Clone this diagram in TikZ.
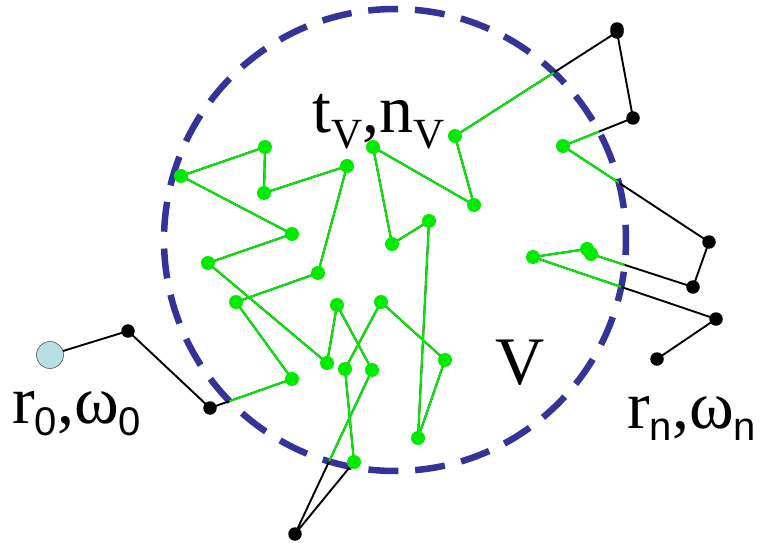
\documentclass[tikz,border=0pt]{standalone}
\usepackage{fontspec}
\setmainfont{Liberation Serif}
\newfontfamily\subsans{Liberation Sans}
\definecolor{vblue}{RGB}{51,51,153}
\definecolor{wgreen}{RGB}{0,235,0}
\definecolor{startblue}{RGB}{183,223,228}
\tikzset{
 wline/.style={line width=1.9pt, black, line cap=round, line join=round},
 gline/.style={line width=2pt, wgreen, line cap=round, line join=round},
 bdot/.style={circle, fill=black, inner sep=0pt, minimum size=13.5pt},
 gdot/.style={circle, fill=wgreen, inner sep=0pt, minimum size=14pt},
 sdot/.style={circle, fill=startblue, draw=gray!70!black, line width=0.6pt, inner sep=0pt, minimum size=27pt},
 lbl/.style={inner sep=0pt, anchor=base west, font=\fontsize{68}{74}\selectfont},
 vcirc/.style={vblue, line width=6.5pt, dash pattern=on 30pt off 16.82pt, dash phase=14.8pt},
}
\newcommand{\ssub}[1]{\raisebox{-12pt}{\fontsize{40}{42}\subsans #1}}
\newcommand{\vsub}[1]{\raisebox{-16pt}{\fontsize{43}{45}\selectfont #1}}
\begin{document}
\begin{tikzpicture}[x=1pt,y=-1pt]
\useasboundingbox (0,0) rectangle (764,543);
\coordinate (c) at (395,240);
\draw[vcirc] (c) circle (231pt);
% walk points
\coordinate (p0) at (50,355);
\coordinate (p1) at (128,331);
\coordinate (p2) at (210,408);
\coordinate (p3) at (292,379);
\coordinate (p4) at (236,302);
\coordinate (p5) at (318,273);
\coordinate (p6) at (347,166);
\coordinate (p7) at (264,193);
\coordinate (p8) at (265,147);
\coordinate (p9) at (181,176);
\coordinate (p10) at (292,234);
\coordinate (p11) at (208,263);
\coordinate (p12) at (327,363);
\coordinate (p13) at (337,305);
\coordinate (p14) at (372,370);
\coordinate (p15) at (295,534);
\coordinate (p16) at (354,462);
\coordinate (p17) at (345,369);
\coordinate (p18) at (381,302);
\coordinate (p19) at (445,360);
\coordinate (p20) at (418,438);
\coordinate (p21) at (429,221);
\coordinate (p22) at (392,244);
\coordinate (p23) at (373,147);
\coordinate (p24) at (474,205);
\coordinate (p25) at (455,136);
\coordinate (p26) at (617,32);
\coordinate (p26b) at (617,29);
\coordinate (p27) at (633,118);
\coordinate (p28) at (563,146);
\coordinate (p29) at (709,242);
\coordinate (p30) at (693,287);
\coordinate (p31) at (591,254);
\coordinate (p32) at (587,249);
\coordinate (p33) at (533,257);
\coordinate (p34) at (716,319);
\coordinate (p35) at (657,359);
% black walk (outside V)
\draw[wline] (p0)--(p1)--(p2)--(p3)--(p4)--(p5)--(p6)--(p7)--(p8)--(p9)--(p10)--(p11)--(p12)--(p13)--(p14)--(p15)--(p16)--(p17)--(p18)--(p19)--(p20)--(p21)--(p22)--(p23)--(p24)--(p25)--(p26)--(p27)--(p28)--(p29)--(p30)--(p31)--(p32)--(p33)--(p34)--(p35);
% green walk (inside V)
\begin{scope}
\clip (c) circle (231pt);
\draw[gline] (p0)--(p1)--(p2)--(p3)--(p4)--(p5)--(p6)--(p7)--(p8)--(p9)--(p10)--(p11)--(p12)--(p13)--(p14)--(p15)--(p16)--(p17)--(p18)--(p19)--(p20)--(p21)--(p22)--(p23)--(p24)--(p25)--(p26)--(p27)--(p28)--(p29)--(p30)--(p31)--(p32)--(p33)--(p34)--(p35);
\end{scope}
% dots
\node[sdot] (d0) at (p0) {};
\foreach \p in {p1,p2,p15,p26,p26b,p27,p29,p30,p34,p35} \node[bdot] (d\p) at (\p) {};
\foreach \p in {p3,p4,p5,p6,p7,p8,p9,p10,p11,p12,p13,p14,p16,p17,p18,p19,p20,p21,p22,p23,p24,p25,p28,p31,p32,p33} \node[gdot] (d\p) at (\p) {};
% labels
\node[lbl] (r0lab) at (12,423) {r\ssub{0},ω\ssub{0}};
\node[lbl] (tvlab) at (312,132) {t\vsub{V},n\vsub{V}};
\node[lbl] (rnlab) at (627,428) {r\ssub{n},ω\ssub{n}};
\node[lbl] (vlab) at (495,384) {V};
\end{tikzpicture}
\end{document}
